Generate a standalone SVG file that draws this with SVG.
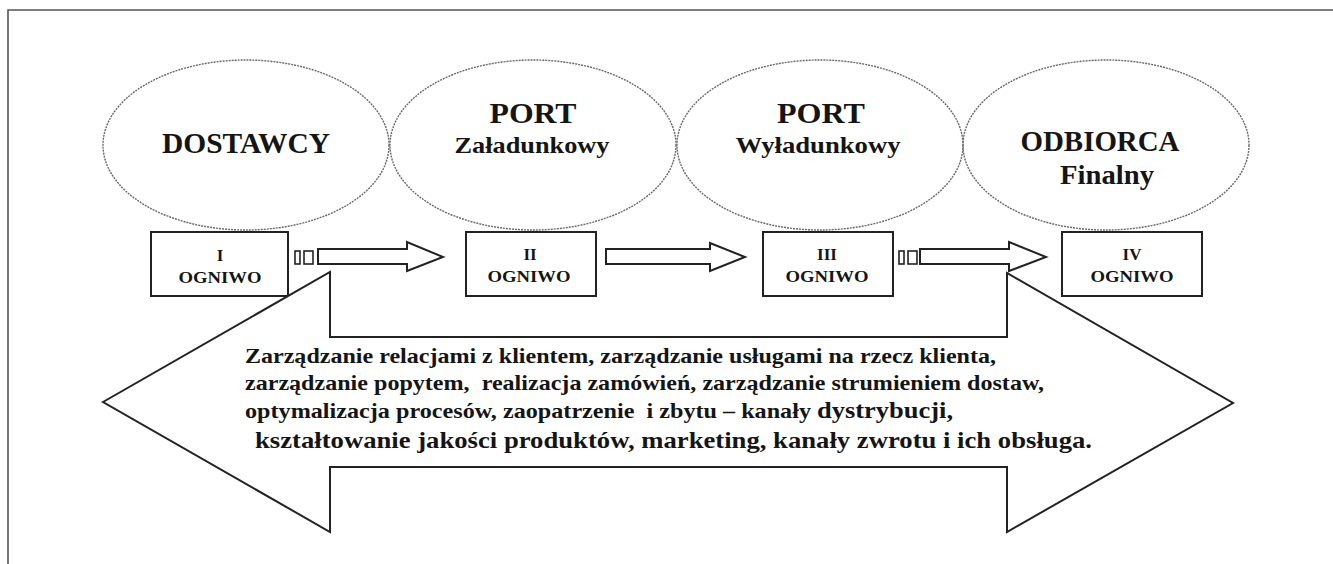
<svg xmlns="http://www.w3.org/2000/svg" width="1333" height="564" viewBox="0 0 1333 564">
<defs>
<style>
.ell{fill:none;stroke:#6a6a6a;stroke-width:1.4;stroke-dasharray:2 1}
.box{fill:#fff;stroke:#222;stroke-width:2}
.arr{fill:#fff;stroke:#222;stroke-width:2;stroke-linejoin:miter}
.sm{fill:#fff;stroke:#222;stroke-width:1.6}
.t{font-family:"Liberation Serif","Times New Roman",serif;font-weight:bold;fill:#151515;text-anchor:middle}
.b{font-family:"Liberation Serif","Times New Roman",serif;font-weight:bold;fill:#151515;white-space:pre}
</style>
</defs>
<rect width="1333" height="564" fill="#fff"/>
<path d="M8 564 V10 H1333" fill="none" stroke="#555" stroke-width="1.6"/>

<g id="node-dostawcy">
<ellipse class="ell" cx="246" cy="145" rx="143" ry="85"/>
<text class="t" x="246" y="153" font-size="30" textLength="168" lengthAdjust="spacingAndGlyphs">DOSTAWCY</text>
</g>
<g id="node-port-zaladunkowy">
<ellipse class="ell" cx="533" cy="145" rx="143" ry="85"/>
<text class="t" x="533" y="123" font-size="30" textLength="87" lengthAdjust="spacingAndGlyphs">PORT</text>
<text class="t" x="532" y="153" font-size="24" textLength="155" lengthAdjust="spacingAndGlyphs">Załadunkowy</text>
</g>
<g id="node-port-wyladunkowy">
<ellipse class="ell" cx="820" cy="145" rx="143" ry="85"/>
<text class="t" x="821" y="123" font-size="30" textLength="88" lengthAdjust="spacingAndGlyphs">PORT</text>
<text class="t" x="818" y="153" font-size="24" textLength="165" lengthAdjust="spacingAndGlyphs">Wyładunkowy</text>
</g>
<g id="node-odbiorca">
<ellipse class="ell" cx="1106" cy="145" rx="143" ry="85"/>
<text class="t" x="1100" y="151" font-size="29" textLength="159" lengthAdjust="spacingAndGlyphs">ODBIORCA</text>
<text class="t" x="1107" y="184" font-size="28" textLength="94" lengthAdjust="spacingAndGlyphs">Finalny</text>
</g>

<g id="node-ogniwo-1">
<rect class="box" x="151" y="232" width="137" height="64"/>
<text class="t" x="220" y="261" font-size="17">I</text>
<text class="t" x="220" y="283" font-size="17" textLength="83" lengthAdjust="spacingAndGlyphs">OGNIWO</text>
</g>
<g id="node-ogniwo-2">
<rect class="box" x="466" y="232" width="130" height="64"/>
<text class="t" x="530" y="260" font-size="17">II</text>
<text class="t" x="529" y="282" font-size="17" textLength="83" lengthAdjust="spacingAndGlyphs">OGNIWO</text>
</g>
<g id="node-ogniwo-3">
<rect class="box" x="763" y="232" width="130" height="64"/>
<text class="t" x="827" y="260" font-size="17">III</text>
<text class="t" x="827" y="282" font-size="17" textLength="83" lengthAdjust="spacingAndGlyphs">OGNIWO</text>
</g>
<g id="node-ogniwo-4">
<rect class="box" x="1062" y="232" width="140" height="64"/>
<text class="t" x="1132" y="260" font-size="17">IV</text>
<text class="t" x="1132" y="282" font-size="17" textLength="83" lengthAdjust="spacingAndGlyphs">OGNIWO</text>
</g>

<g id="connectors">
<rect class="sm" x="295" y="251" width="5" height="13"/>
<rect class="sm" x="304" y="251" width="9" height="13"/>
<polygon class="arr" points="318,249 407,249 407,242 443,257 407,271 407,264 318,264"/>
<polygon class="arr" points="606,249 710,249 710,243 745,257 710,271 710,264 606,264"/>
<rect class="sm" x="899" y="251" width="5" height="13"/>
<rect class="sm" x="908" y="251" width="9" height="13"/>
<polygon class="arr" points="920,249 1009,249 1009,242 1046,257 1009,271 1009,264 920,264"/>
</g>

<g id="node-big-arrow">
<polygon class="arr" points="103,402 330,272 330,337 1007,337 1007,273 1233,403 1007,532 1007,467 330,467 330,532"/>
<text class="b" x="245" y="363" font-size="21" textLength="751" lengthAdjust="spacingAndGlyphs">Zarządzanie relacjami z klientem, zarządzanie usługami na rzecz klienta,</text>
<text class="b" x="245" y="390" font-size="21" textLength="799" lengthAdjust="spacingAndGlyphs">zarządzanie popytem,  realizacja zamówień, zarządzanie strumieniem dostaw,</text>
<text class="b" x="245" y="418" font-size="21" textLength="566" lengthAdjust="spacingAndGlyphs">optymalizacja procesów, zaopatrzenie  i zbytu – kanały</text>
<text class="b" x="817" y="418" font-size="24" textLength="136" lengthAdjust="spacingAndGlyphs">dystrybucji,</text>
<text class="b" x="255" y="448" font-size="23" textLength="837" lengthAdjust="spacingAndGlyphs">kształtowanie jakości produktów, marketing, kanały zwrotu i ich obsługa.</text>
</g>
</svg>
